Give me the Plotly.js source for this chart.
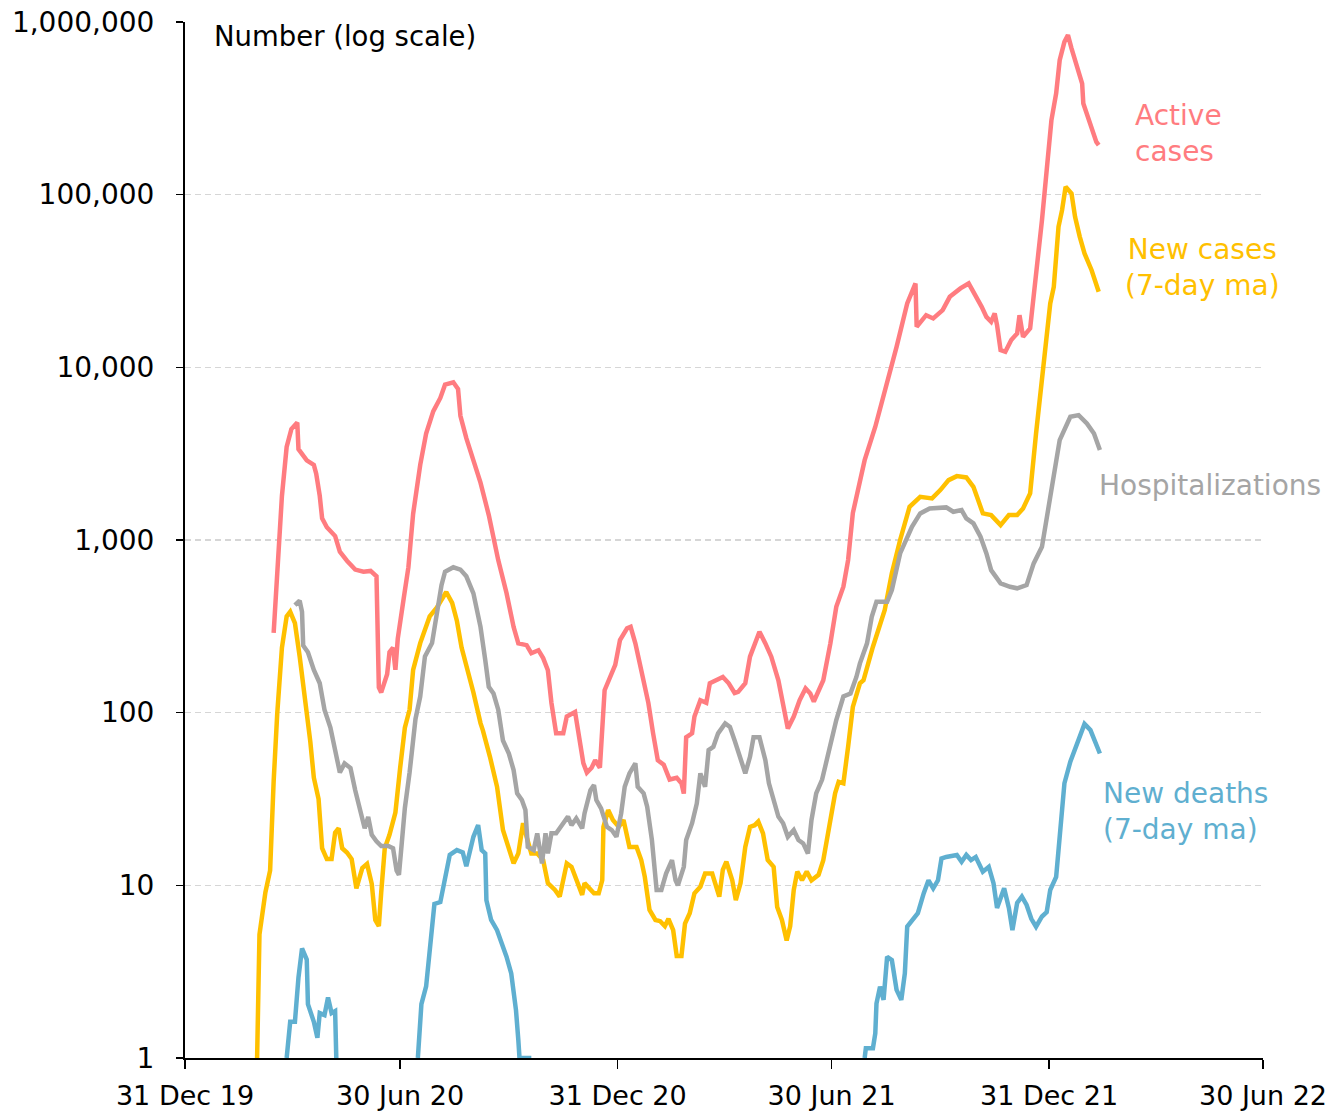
<!DOCTYPE html>
<html>
<head>
<meta charset="utf-8">
<script src="https://cdn.plot.ly/plotly-3.0.1.min.js"></script>
<style>
  body { margin: 0; background: #fff; }
  #chart { width: 1343px; height: 1117px; }
</style>
</head>
<body>
<div id="chart"></div>
<script>
// days counted from 31 Dec 2019
var startDate = Date.UTC(2019, 11, 31);

var activeDays = [75,78,82,86,90,95,96,103,109,111,114,116,120,127,131,137,144,151,157,162,164,166,171,173,176,178,180,185,189,193,199,204,210,216,220,227,231,233,238,244,250,257,265,272,278,282,289,293,299,303,307,310,314,320,323,330,333,337,340,344,347,351,355,360,364,368,374,377,381,386,392,396,400,405,410,416,420,422,424,429,431,436,441,444,450,455,460,465,468,474,478,482,486,491,496,502,506,510,515,520,525,529,532,536,540,546,551,557,561,565,575,584,594,602,611,618,619,627,633,641,647,656,663,668,674,678,682,685,687,690,694,699,704,706,709,715,720,725,729,733,737,740,744,747,750,754,759,760,764,767,771,773];
var activeCases = [290,695,1800,3460,4390,4790,3360,2890,2720,2420,1800,1335,1186,1054,855,759,674,655,662,616,140,131,167,224,238,177,268,458,695,1418,2725,4130,5560,6650,7940,8190,7490,5240,3890,2890,2150,1394,765,493,314,252,246,221,230,207,176,114,76,76,95,101,72,51,45,48,53,48,135,161,189,263,308,314,252,176,114,76,53,50,41,42,39,34,72,76,95,118,114,148,154,161,148,130,132,148,211,252,294,252,211,154,108,81,95,118,138,129,116,132,154,252,410,536,765,1432,2900,4530,8070,13150,23440,30600,17170,20050,19190,21440,25600,28640,30600,26790,22400,19600,18350,20500,17550,12580,12300,14380,15720,20050,15020,16800,33430,71200,138600,270000,385500,601000,767000,839000,703000,575000,440000,337000,282000,236000,202000,193600];

var newCaseDays = [61,63,68,72,75,78,82,86,89,93,97,102,106,109,113,116,120,124,127,130,133,137,141,145,150,154,158,161,164,166,169,173,178,182,186,190,193,199,203,207,213,219,221,226,230,234,238,244,250,252,258,264,269,274,278,282,286,289,293,298,303,307,313,317,323,327,331,336,338,343,346,350,353,354,358,362,367,371,374,376,382,386,389,393,398,402,406,409,413,416,420,423,427,431,436,440,446,450,452,455,458,463,466,470,474,478,482,485,489,493,498,501,505,509,512,515,518,522,526,530,536,540,546,550,553,557,561,565,571,574,582,592,598,605,613,622,632,639,646,653,661,667,671,675,682,690,697,704,709,715,720,726,732,735,739,742,745,750,753,757,761,767,773];
var newCases = [1.0,5.2,9.1,12.2,40,98,238,361,384,330,212,117,68,42,31.6,16.4,14.2,14.2,20.2,21.4,16.4,15.5,14.2,9.6,12.6,13.3,10.2,6.3,5.8,9.1,16.4,19.6,26.4,47.8,81.8,104,177,253,302,361,406,486,500,432,341,238,188,131,87,79,55.5,37.2,20.9,16.7,13.4,15.3,22.9,19.1,15.3,15.3,14.0,10.3,9.4,8.6,13.4,12.8,10.7,8.8,10.3,9.4,9.0,9.0,10.7,21.8,27.3,23.9,21.8,23.9,19.1,16.7,16.7,14.0,11.2,7.2,6.3,6.2,5.8,6.4,5.5,3.9,3.9,6.0,6.9,9.0,9.8,11.7,11.7,9.8,8.6,12.3,13.7,10.7,8.2,10.3,16.7,21.8,22.3,23.4,20.0,14.0,12.8,7.5,6.3,4.8,5.8,9.4,12.0,10.7,12.0,10.7,11.5,14.0,23.9,34.1,39.8,39.0,63.5,108,148,154,241,393,641,1000,1557,1780,1741,1945,2222,2344,2303,2033,1702,1426,1394,1220,1394,1394,1524,1862,4141,10070,23440,29250,65100,81300,111000,101600,74400,57000,45700,36500,27400];

var hospDays = [93,97,99,100,104,109,114,118,123,128,131,135,140,144,148,152,155,158,162,166,172,176,179,181,183,186,190,195,199,203,209,213,217,220,227,233,238,244,250,254,257,261,265,269,274,278,281,285,288,290,295,298,302,305,307,310,314,320,324,327,331,336,338,343,346,348,352,357,361,365,369,372,376,381,383,388,391,395,399,403,407,412,415,417,422,424,429,433,436,440,443,447,451,457,461,465,470,474,478,481,486,491,494,498,502,506,510,515,519,523,527,530,534,539,543,547,551,557,563,568,571,577,581,585,594,598,605,615,622,630,639,644,650,657,661,667,673,678,682,690,698,704,712,718,725,730,735,740,749,756,763,769,774];
var hospitalizations = [419,445,384,245,224,177,148,104,82,57,45,50.8,47.8,35.5,28,21.4,24.9,19.6,18,16.9,16.9,16.4,12.2,11.5,16.4,28,45,92,124,212,253,361,547,655,695,674,616,491,314,202,141,129,104,69,58,46.5,34.1,31.2,27.3,16.7,16,20,13.4,20,15.3,20,20,22.9,25,22.3,24.4,21.4,26.1,35.6,38.1,31.2,27.9,21.8,20.9,19.1,26.1,37.2,44.5,50.9,37.2,34.1,28.5,18.3,9.4,9.4,11.7,14.0,10.7,10,12.8,18.3,22.9,29.8,44.5,37.2,60.7,63.5,75.9,86.7,82.8,69,53,44.5,55.5,72,72,53,39,31.2,25,22.9,19.1,20.9,18.3,17.5,15.3,23.9,34.1,41,53,66.4,90.6,124,129,161,193,252,359,439,439,513,836,1192,1426,1524,1524,1545,1457,1490,1334,1248,1044,836,669,561,536,525,548,732,913,1426,2323,3790,5170,5290,4730,4141,3316];

// null marks days with no deaths (not drawable on a log axis)
var deathDays = [86,89,93,96,99,103,104,109,112,114,118,121,124,127,128,160,197,200,204,209,211,216,219,224,230,235,238,241,244,248,251,254,255,259,264,268,272,276,278,280,282,283,293,400,575,576,582,584,585,588,591,594,598,602,606,609,611,616,620,625,629,633,637,640,644,653,657,661,665,669,675,680,684,687,690,693,697,700,704,708,712,716,720,725,729,732,737,742,744,749,753,757,761,766,770,774];
var newDeaths = [1.0,1.62,1.62,2.93,4.31,3.72,2.05,1.62,1.31,1.82,1.77,2.24,1.82,1.87,1.0,null,1.0,2.05,2.6,5.6,7.8,8.0,10.2,15,16,15.5,12.9,16,19.1,22.3,16,15.3,8.2,6.3,5.5,4.6,3.86,3.09,2.48,1.9,1.27,1.0,1.0,null,1.0,1.14,1.14,1.39,2.07,2.59,2.17,3.86,3.69,2.48,2.17,3.09,5.76,6.3,6.9,9.0,10.7,9.6,10.7,14.3,14.6,15,13.7,15,14.0,14.6,12.0,12.8,10.3,7.4,8.4,9.6,7.4,5.5,7.9,8.6,7.7,6.4,5.76,6.6,7.0,9.4,11.2,25,39,52,60.7,72,86,79.3,68,58];

var tickDates = ['2019-12-31','2020-06-30','2020-12-31','2021-06-30','2021-12-31','2022-06-30'];
var tickLabels = ['31 Dec 19','30 Jun 20','31 Dec 20','30 Jun 21','31 Dec 21','30 Jun 22'];
var yTicks = [1,10,100,1000,10000,100000,1000000];
var yLabels = ['1','10','100','1,000','10,000','100,000','1,000,000'];

function toDate(d) {
  return new Date(startDate + d * 86400000).toISOString().slice(0, 10);
}

function makeTrace(days, vals, name, color) {
  return {
    x: days.map(toDate),
    y: vals,
    name: name,
    type: 'scatter',
    mode: 'lines',
    connectgaps: false,
    line: {color: color, width: 4.5}
  };
}

var RED = '#FF7C80', GOLD = '#FFC000', GREY = '#A5A5A5', BLUE = '#5FAFD0';
var FONT = 'DejaVu Sans';

function label(text, color, x, y, xanchor, align) {
  return {
    text: text, xref: 'paper', yref: 'paper', x: x, y: y,
    xanchor: xanchor, yanchor: 'middle', align: align,
    showarrow: false, font: {family: FONT, size: 28, color: color}
  };
}

var traces = [
  makeTrace(deathDays, newDeaths, 'New deaths', BLUE),
  makeTrace(newCaseDays, newCases, 'New cases', GOLD),
  makeTrace(hospDays, hospitalizations, 'Hospitalizations', GREY),
  makeTrace(activeDays, activeCases, 'Active cases', RED)
];

var layout = {
  width: 1343,
  height: 1117,
  margin: {l: 185, r: 80, t: 22, b: 59},
  paper_bgcolor: '#fff',
  plot_bgcolor: '#fff',
  showlegend: false,
  font: {family: FONT, size: 28, color: '#000'},
  xaxis: {
    type: 'date',
    range: ['2019-12-31', '2022-06-30'],
    tickvals: tickDates,
    ticktext: tickLabels,
    ticks: 'outside',
    ticklen: 9,
    tickwidth: 1.5,
    tickcolor: '#000',
    showline: true,
    linecolor: '#000',
    linewidth: 2,
    showgrid: false,
    zeroline: false,
    ticklabelstandoff: 4,
    tickfont: {family: FONT, size: 27, color: '#000'}
  },
  yaxis: {
    type: 'log',
    range: [0, 6],
    tickvals: yTicks,
    ticktext: yLabels,
    ticks: 'outside',
    ticklen: 7,
    tickwidth: 1.5,
    tickcolor: '#000',
    showline: true,
    linecolor: '#000',
    linewidth: 2,
    showgrid: true,
    gridcolor: '#D6D6D6',
    gridwidth: 1.5,
    griddash: '6px,4px',
    zeroline: false,
    ticklabelstandoff: 16,
    tickfont: {family: FONT, size: 28, color: '#000'}
  },
  annotations: [
    {
      text: 'Number (log scale)', xref: 'paper', yref: 'paper',
      x: 0.026, y: 0.9865, xanchor: 'left', yanchor: 'middle', align: 'left',
      width: 297, bgcolor: '#fff', borderpad: 0, showarrow: false,
      font: {family: FONT, size: 27.5, color: '#000'}
    },
    label('Active<br>cases', RED, 0.879, 0.892, 'left', 'left'),
    label('New cases<br>(7-day ma)', GOLD, 0.944, 0.763, 'center', 'center'),
    label('Hospitalizations', GREY, 0.846, 0.553, 'left', 'left'),
    label('New deaths<br>(7-day ma)', BLUE, 0.850, 0.238, 'left', 'left')
  ]
};

Plotly.newPlot('chart', traces, layout, {displayModeBar: false, staticPlot: true});
</script>
</body>
</html>
